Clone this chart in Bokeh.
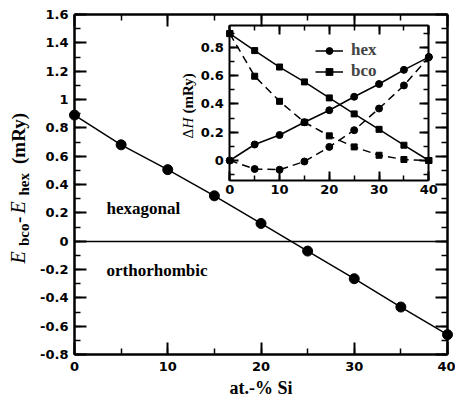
import math
from bokeh.plotting import figure
from bokeh.models import (Range1d, LinearAxis, SingleIntervalTicker, FixedTicker, CustomJSTickFormatter,
                          Label, Legend, LegendItem)
from bokeh.embed import file_html
from bokeh.resources import INLINE

# ---------------- data ----------------
si_pct = [0, 5, 10, 15, 20, 25, 30, 35, 40]
e_bco_minus_hex = [0.89, 0.68, 0.505, 0.32, 0.125, -0.07, -0.265, -0.465, -0.66]

inset_si = [0, 5, 10, 15, 20, 25, 30, 35, 40]
hex_solid = [0.0, 0.113, 0.18, 0.27, 0.355, 0.45, 0.54, 0.64, 0.73]
hex_dashed = [0.0, -0.06, -0.065, -0.007, 0.096, 0.214, 0.367, 0.53, 0.73]
bco_solid = [0.896, 0.776, 0.66, 0.555, 0.442, 0.329, 0.22, 0.108, 0.0]
bco_dashed = [0.896, 0.595, 0.418, 0.27, 0.174, 0.096, 0.037, 0.007, 0.0]

legend_labels = ["hex", "bco"]
region_labels = ["hexagonal", "orthorhombic"]
x_title = "at.-% Si"

# ---------------- layout (canvas px) ----------------
W, H = 455, 399
AL, AR, AT, AB = 74, 447, 14, 354      # main axes box
XB = (0, 40)                          # main axis limits
YB = (-0.8, 1.6)
sx = (AR - AL) / (XB[1] - XB[0])
sy = (AB - AT) / (YB[1] - YB[0])

def xd(px):
    return XB[0] + (px - AL) / sx

def yd(py):
    return YB[1] - (py - AT) / sy

SANS = "DejaVu Sans"
SERIF = "Liberation Serif"
fmt = CustomJSTickFormatter(code="""
const v = Math.abs(tick) < 1e-9 ? 0 : tick;
return v.toFixed(1).replace(/\\.0$/, '');
""")
blank = CustomJSTickFormatter(code="return '';")

p = figure(width=W, height=H, x_range=Range1d(xd(0), xd(W)), y_range=Range1d(yd(H), yd(0)),
           output_backend="svg", toolbar_location=None, title=None, min_border=0,
           x_axis_location=None, y_axis_location=None)
p.outline_line_color = None
p.grid.visible = False
p.background_fill_color = "white"
p.border_fill_color = "white"

def add_axis(side, loc, bounds, ticker, labels, tmaj, tmin, lw, standoff=5, rng=None):
    kw = dict(x_range_name=rng[0], y_range_name=rng[1]) if rng else {}
    ax = LinearAxis(fixed_location=loc, bounds=bounds, ticker=ticker, **kw)
    ax.axis_line_width = lw
    ax.major_tick_in = tmaj
    ax.major_tick_out = 0
    ax.minor_tick_in = tmin
    ax.minor_tick_out = 0
    ax.major_tick_line_width = 2
    ax.minor_tick_line_width = 1.5
    if labels:
        ax.formatter = fmt
        ax.major_label_text_font = SANS
        ax.major_label_text_font_style = "bold"
        ax.major_label_text_font_size = "13px"
        ax.major_label_text_color = "black"
        ax.major_label_standoff = standoff
    else:
        ax.formatter = blank
        ax.major_label_text_font_size = "0px"
        ax.major_label_standoff = 0
    p.add_layout(ax, side)
    return ax

# main axes (box)
add_axis("below", YB[0], XB, SingleIntervalTicker(interval=10, num_minor_ticks=2), True, 12, 6, 2.5, standoff=7)
add_axis("above", YB[1], XB, SingleIntervalTicker(interval=10, num_minor_ticks=2), False, 12, 6, 2.5)
add_axis("left", XB[0], YB, SingleIntervalTicker(interval=0.2, num_minor_ticks=2), True, 12, 6, 2.5, standoff=6)
add_axis("right", XB[1], YB, SingleIntervalTicker(interval=0.2, num_minor_ticks=2), False, 12, 6, 2.5)
# zero line as a tick-less axis
add_axis("below", 0, XB, FixedTicker(ticks=[]), False, 0, 0, 1.5)

# main series
p.line(si_pct, e_bco_minus_hex, line_color="black", line_width=1.5)
p.scatter(si_pct, e_bco_minus_hex, marker="circle", size=10, fill_color="black", line_color="black")

def text(txt, px, py, style, fs, angle=0.0, align="left"):
    # compensate the renderer's baseline offset (~0.23 em) toward the glyph's "up" direction
    d = 0.23 * fs
    if angle:
        px -= d
    else:
        py -= d
    p.add_layout(Label(x=xd(px), y=yd(py), text=txt, angle=angle, text_font=SERIF,
                       text_font_style=style, text_font_size=f"{fs}px", text_align=align,
                       text_baseline="alphabetic", text_color="black"))

# region labels
text(region_labels[0], 106, 211.5, "bold", 17)
text(region_labels[1], 106, 273.5, "bold", 17)

# x title
text(x_title, (AL + AR) / 2, 392, "bold", 18, align="center")

# y title pieces (rotated, reading upward): text, start py (bottom), baseline px, style, size
for txt, py, bx, style, fs in [
    ("E", 263, 22, "italic", 20),
    ("bco", 245.5, 27, "bold", 15),
    ("-", 222.5, 22, "bold", 19),
    ("E", 213, 22, "italic", 20),
    ("hex", 195, 27, "bold", 15),
    ("(mRy)", 163.5, 22, "bold", 19),
]:
    text(txt, bx, py, style, fs, angle=math.pi / 2)

# ---------------- inset ----------------
IX0, IX40 = 229.3, 428.3     # canvas px of inset x=0 and x=40
IY0, IY08 = 160.0, 46.7      # canvas px of inset y=0 and y=0.8
ixs = 40 / (IX40 - IX0)
iys = 0.8 / (IY0 - IY08)
p.extra_x_ranges = {"ix": Range1d((0 - IX0) * ixs, (W - IX0) * ixs)}
p.extra_y_ranges = {"iy": Range1d((IY0 - H) * iys, (IY0 - 0) * iys)}
IXB = (0, 40)
IYB = (-0.141, 0.953)
R = ("ix", "iy")

add_axis("below", IYB[0], IXB, SingleIntervalTicker(interval=10, num_minor_ticks=2), True, 9, 5, 2, standoff=5, rng=R)
add_axis("above", IYB[1], IXB, SingleIntervalTicker(interval=10, num_minor_ticks=2), False, 9, 5, 2, rng=R)
add_axis("left", IXB[0], IYB, SingleIntervalTicker(interval=0.2, num_minor_ticks=2), True, 9, 5, 2, standoff=6, rng=R)
add_axis("right", IXB[1], IYB, SingleIntervalTicker(interval=0.2, num_minor_ticks=2), False, 9, 5, 2, rng=R)

kw = dict(x_range_name="ix", y_range_name="iy")
r_hex_l = p.line(inset_si, hex_solid, line_color="black", line_width=1.5, **kw)
r_hex_m = p.scatter(inset_si, hex_solid, marker="circle", size=7, color="black", **kw)
p.line(inset_si, hex_dashed, line_color="black", line_width=1.5, line_dash="8 5", **kw)
p.scatter(inset_si, hex_dashed, marker="circle", size=7, color="black", **kw)
r_bco_l = p.line(inset_si, bco_solid, line_color="black", line_width=1.5, **kw)
r_bco_m = p.scatter(inset_si, bco_solid, marker="square", size=6, color="black", **kw)
p.line(inset_si, bco_dashed, line_color="black", line_width=1.5, line_dash="8 5", **kw)
p.scatter(inset_si, bco_dashed, marker="square", size=6, color="black", **kw)

legend = Legend(items=[LegendItem(label=legend_labels[0], renderers=[r_hex_l, r_hex_m]),
                       LegendItem(label=legend_labels[1], renderers=[r_bco_l, r_bco_m])],
                location=(315, H - 81),
                background_fill_alpha=0, border_line_color=None,
                label_text_font=SERIF, label_text_font_style="bold", label_text_font_size="17px",
                glyph_width=28, glyph_height=17, label_height=17, label_standoff=8,
                padding=0, margin=0, spacing=1)
p.add_layout(legend)

# inset y title pieces
text("\u0394", 191, 138, "normal", 15, angle=math.pi / 2)
text("H", 191, 128, "italic", 15, angle=math.pi / 2)
text("(mRy)", 191, 113, "bold", 15, angle=math.pi / 2)

open("out.html", "w").write(file_html(p, INLINE))
